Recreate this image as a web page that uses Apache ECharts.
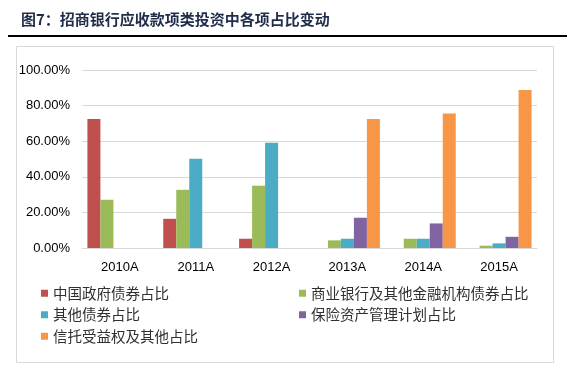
<!DOCTYPE html>
<html><head><meta charset="utf-8">
<script src="https://cdn.jsdelivr.net/npm/echarts@6/dist/echarts.min.js"></script>
<style>html,body{margin:0;padding:0;background:#fff;}#c{width:567px;height:374px;}</style>
</head><body><div id="c"></div>
<script>
const categories = ['2010A','2011A','2012A','2013A','2014A','2015A'];
const govBond = [72.5, 16.4, 5.2, 0, 0, 0];
const bankBond = [27.1, 32.7, 35.0, 4.3, 5.2, 1.3];
const otherBond = [0, 50.1, 59.1, 5.2, 5.2, 2.6];
const insurance = [0, 0, 0, 17.0, 13.8, 6.3];
const trust = [0, 0, 0, 72.5, 75.5, 88.8];
const yTicks = [0, 20, 40, 60, 80, 100];
const names = ['中国政府债券占比','商业银行及其他金融机构债券占比','其他债券占比','保险资产管理计划占比','信托受益权及其他占比'];
const colors = ['#C0504D','#9BBB59','#4BACC6','#8064A2','#F79646'];
const values = [govBond, bankBond, otherBond, insurance, trust];

const chart = echarts.init(document.getElementById('c'));
const legendText = {fontFamily:'Noto Sans CJK SC', fontSize:14.5, color:'#303030'};
chart.setOption({
  animation:false,
  title:{text:'图7：招商银行应收款项类投资中各项占比变动', left:16, top:7,
    textStyle:{fontFamily:'Noto Sans CJK SC', fontSize:15, fontWeight:'bold', color:'#1f2d4a'}},
  graphic:[
    {type:'line', shape:{x1:8,y1:36,x2:567,y2:36}, style:{stroke:'#000',lineWidth:2}},
    {type:'rect', shape:{x:16.5,y:46.5,width:537,height:316}, style:{fill:'none',stroke:'#d9d9d9',lineWidth:1}}
  ],
  grid:{left:82, right:30, top:70, bottom:126},
  xAxis:{type:'category', data:categories,
    axisLine:{lineStyle:{color:'#d9d9d9'}}, axisTick:{show:false},
    axisLabel:{color:'#000', fontSize:13, fontFamily:'Liberation Sans', margin:13}},
  yAxis:{type:'value', min:yTicks[0], max:yTicks[yTicks.length-1], interval:20,
    axisLine:{show:false}, axisTick:{show:false},
    splitLine:{lineStyle:{color:'#d9d9d9'}},
    axisLabel:{color:'#000', fontSize:13, fontFamily:'Liberation Sans', margin:12,
      formatter:v=>v.toFixed(2)+'%'}},
  legend:[
    {data:[names[0],names[2],names[4]], orient:'vertical', left:36, top:281, itemWidth:7, itemHeight:7, itemGap:7, icon:'rect', textStyle:legendText},
    {data:[names[1],names[3]], orient:'vertical', left:294, top:281, itemWidth:7, itemHeight:7, itemGap:7, icon:'rect', textStyle:legendText}
  ],
  series: names.map((n,i)=>({name:n, type:'bar', data:values[i], barWidth:13, barGap:'0%',
    itemStyle:{color:colors[i]}}))
});
</script></body></html>
